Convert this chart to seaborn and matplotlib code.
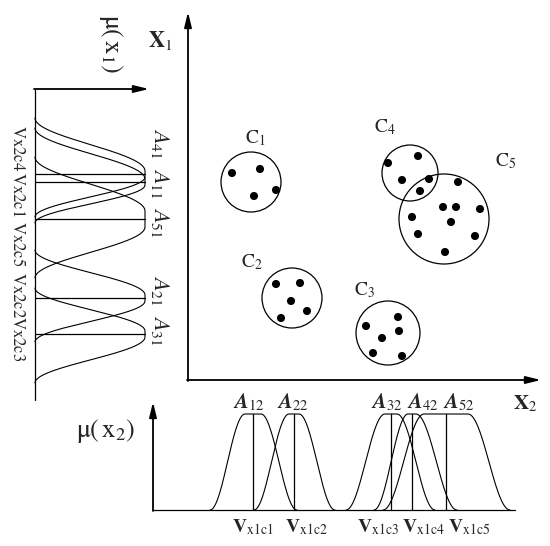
import numpy as np
import pandas as pd
import matplotlib
matplotlib.use("Agg")
import matplotlib.pyplot as plt
import seaborn as sns
from matplotlib.patches import Circle

# ---- clusters in the X2 / X1 plane (sketch pixel space) ----
cluster_ids = ["1", "2", "3", "4", "5"]
cluster_cx = [251, 292, 388, 410, 444]
cluster_cy = [182, 298, 333, 173, 219]
cluster_r = [30, 30, 32, 28, 45]
cluster_lab_x = [255, 252, 365, 385, 506]
cluster_lab_y = [138, 262, 290, 127, 161]

pts_x = [232, 260, 254, 276,
         276, 300, 291, 307, 281,
         398, 366, 399, 382, 373, 402,
         388, 418, 402, 429, 420,
         458, 443, 456, 480, 412, 451, 418, 475, 445]
pts_y = [173, 169, 196, 190,
         284, 283, 301, 311, 318,
         317, 326, 331, 338, 353, 356,
         163, 156, 180, 179, 191,
         182, 207, 207, 209, 217, 222, 234, 236, 252]

# ---- membership functions on x2 (bottom panel) ----
mf2_ids = ["12", "22", "32", "42", "52"]
mf2_center = [253, 294, 391, 412, 446]
mf2_lo = [210, 254, 346, 374, 383]
mf2_hi = [297, 335, 435, 457, 510]
mf2_flat = [8, 5, 6, 4, 22]
mf2_lab_x = [249, 293, 387, 423, 459]
v2_ids = ["x1c1", "x1c2", "x1c3", "x1c4", "x1c5"]
v2_lab_x = [253, 306, 378, 423, 469]

# ---- membership functions on x1 (left panel, rotated) ----
mf1_ids = ["41", "11", "51", "21", "31"]
mf1_center = [174, 182, 219, 298, 334]
mf1_lo = [118, 128, 157, 250, 288]
mf1_hi = [217, 223, 278, 342, 383]
mf1_flat = [3, 3, 8, 3, 3]
mf1_lab_y = [143, 183, 222, 290, 330]
v1_ids = ["x2c4", "x2c1", "x2c5", "x2c2", "x2c3"]
v1_lab_y = [148, 194, 244, 295, 339]


def bell(u, c, lo, hi, flat):
    d = u - c
    w = np.where(d < 0, c - lo, hi - c)
    t = np.clip((np.abs(d) - flat) / (w - flat), 0, 1)
    return 0.5 * (1 + np.cos(np.pi * t))


def arrow(ax, x0, y0, x1, y1, lw=1.3):
    ax.annotate("", xy=(x1, y1), xytext=(x0, y0),
                arrowprops=dict(arrowstyle="-|>,head_width=0.22,head_length=0.9",
                                color="black", lw=lw, shrinkA=0, shrinkB=0))


sns.set_style("white")
plt.rcParams["font.family"] = ["Liberation Serif", "DejaVu Serif"]
plt.rcParams["mathtext.fontset"] = "stix"

fig = plt.figure(figsize=(5.5, 5.46), dpi=100)
ax = fig.add_axes([0, 0, 1, 1])
ax.set_xlim(0, 550)
ax.set_ylim(546, 0)
ax.axis("off")

# main axes
arrow(ax, 188, 381, 188, 12)
arrow(ax, 187, 380, 541, 380)
ax.text(160, 40, r"$\mathbf{X}_{1}$", fontsize=16, ha="center", va="center")
ax.text(525, 404, r"$\mathbf{X}_{2}$", fontsize=15, ha="center", va="center")

# clusters
for cid, cx, cy, r, lx, ly in zip(cluster_ids, cluster_cx, cluster_cy, cluster_r,
                                  cluster_lab_x, cluster_lab_y):
    ax.add_patch(Circle((cx, cy), r, fill=False, ec="black", lw=0.9))
    ax.text(lx, ly, r"$\mathrm{C}_{%s}$" % cid, fontsize=14, ha="center", va="center")

pts = pd.DataFrame({"x2": pts_x, "x1": pts_y})
sns.scatterplot(data=pts, x="x2", y="x1", s=34, color="black", edgecolor="none", ax=ax)

# bottom panel: mu(x2)
base2, top2 = 510, 414
arrow(ax, 153, 511, 153, 402)
ax.plot([153, 515], [base2, base2], color="black", lw=0.9)
ax.text(106, 431, r"$\mathrm{\mu(\,x_2)}$", fontsize=19, ha="center", va="center")

rows = []
for mid, c, lo, hi, fl in zip(mf2_ids, mf2_center, mf2_lo, mf2_hi, mf2_flat):
    u = np.linspace(lo, hi, 200)
    m = bell(u, c, lo, hi, fl)
    rows.append(pd.DataFrame({"u": u, "v": base2 - m * (base2 - top2), "mf": mid}))
mf2 = pd.concat(rows)
sns.lineplot(data=mf2, x="u", y="v", units="mf", estimator=None, sort=False,
             color="black", lw=0.8, ax=ax)
for c in mf2_center:
    ax.plot([c, c], [base2, top2], color="black", lw=0.9)
for mid, lx in zip(mf2_ids, mf2_lab_x):
    ax.text(lx, 402, r"$\mathbfit{A}_{\mathit{%s}}$" % mid, fontsize=15,
            ha="center", va="center")
for vid, lx in zip(v2_ids, v2_lab_x):
    ax.text(lx, 527, r"$\mathbf{V}_{\mathrm{%s}}$" % vid, fontsize=14,
            ha="center", va="center")

# left panel: mu(x1), rotated
base1, top1 = 35, 145
arrow(ax, 34, 89, 149, 89)
ax.plot([base1, base1], [89, 400], color="black", lw=0.9)
ax.text(111, 44, r"$\mathrm{\mu(\,x_1)}$", fontsize=19, ha="center", va="center",
        rotation=-90)

rows = []
for mid, c, lo, hi, fl in zip(mf1_ids, mf1_center, mf1_lo, mf1_hi, mf1_flat):
    u = np.linspace(lo, hi, 200)
    m = bell(u, c, lo, hi, fl)
    rows.append(pd.DataFrame({"u": u, "v": base1 + m * (top1 - base1), "mf": mid}))
mf1 = pd.concat(rows)
sns.lineplot(data=mf1, x="v", y="u", units="mf", estimator=None, sort=False,
             orient="y", color="black", lw=0.8, ax=ax)
for c in mf1_center:
    ax.plot([base1, top1], [c, c], color="black", lw=0.9)
for mid, ly in zip(mf1_ids, mf1_lab_y):
    ax.text(160, ly, r"$\mathit{A}_{\mathit{%s}}$" % mid, fontsize=16,
            ha="center", va="center", rotation=-90)
for vid, ly in zip(v1_ids, v1_lab_y):
    ax.text(17, ly, r"$\mathrm{V}\mathrm{%s}$" % vid, fontsize=12,
            ha="center", va="center", rotation=-90)

ax.set_xlim(0, 550)
ax.set_ylim(546, 0)
fig.savefig("out.png", dpi=100)
